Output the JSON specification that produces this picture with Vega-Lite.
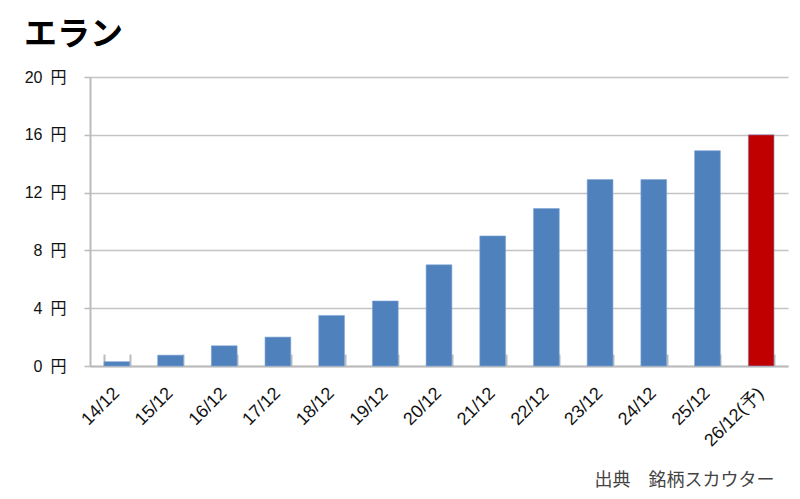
{
  "$schema": "https://vega.github.io/schema/vega-lite/v6.json",
  "width": 698,
  "height": 289,
  "autosize": "none",
  "padding": {"left": 90, "top": 77, "right": 12, "bottom": 133},
  "background": "white",
  "title": {
    "text": "エラン",
    "anchor": "start",
    "frame": "group",
    "dx": -66,
    "offset": 17,
    "fontSize": 33,
    "fontWeight": "bold",
    "font": "Noto Sans CJK JP",
    "color": "#000000"
  },
  "data": {
    "values": [
      {"year": "14/12", "value": 0.3, "kind": "実績"},
      {"year": "15/12", "value": 0.75, "kind": "実績"},
      {"year": "16/12", "value": 1.4, "kind": "実績"},
      {"year": "17/12", "value": 2.0, "kind": "実績"},
      {"year": "18/12", "value": 3.5, "kind": "実績"},
      {"year": "19/12", "value": 4.5, "kind": "実績"},
      {"year": "20/12", "value": 7.0, "kind": "実績"},
      {"year": "21/12", "value": 9.0, "kind": "実績"},
      {"year": "22/12", "value": 10.9, "kind": "実績"},
      {"year": "23/12", "value": 12.9, "kind": "実績"},
      {"year": "24/12", "value": 12.9, "kind": "実績"},
      {"year": "25/12", "value": 14.9, "kind": "実績"},
      {"year": "26/12(予)", "value": 16.0, "kind": "予想"}
    ]
  },
  "mark": {"type": "bar", "stroke": "#7fa6d6", "strokeWidth": 0.6},
  "encoding": {
    "x": {
      "field": "year",
      "type": "nominal",
      "sort": null,
      "scale": {"paddingInner": 0.52, "paddingOuter": 0.26},
      "axis": {
        "title": "出典　銘柄スカウター",
        "titleFont": "Noto Sans CJK JP",
        "titleFontSize": 18,
        "titleFontWeight": "normal",
        "titleColor": "#444444",
        "titleAnchor": "end",
        "titleAlign": "right",
        "titleBaseline": "middle",
        "titleX": 684,
        "titleY": 114,
        "labelAngle": -45,
        "labelAlign": "right",
        "labelBaseline": "top",
        "labelFont": "Liberation Sans",
        "labelFontSize": 18,
        "labelColor": "#111111",
        "labelPadding": 30,
        "labelOffset": -7,
        "tickBand": "extent",
        "tickSize": -12,
        "tickColor": "#bbbbbb",
        "tickWidth": 2,
        "domainColor": "#bbbbbb",
        "domainWidth": 2
      }
    },
    "y": {
      "field": "value",
      "type": "quantitative",
      "scale": {"domain": [0, 20], "nice": false},
      "axis": {
        "title": null,
        "values": [0, 4, 8, 12, 16, 20],
        "labelExpr": "datum.value + '\u2002円'",
        "labelFont": "Liberation Sans, Noto Sans CJK JP",
        "labelFontSize": 16,
        "labelColor": "#111111",
        "labelPadding": 18,
        "tickSize": 6,
        "tickColor": "#bbbbbb",
        "tickWidth": 1.5,
        "gridColor": "#c4c4c4",
        "gridWidth": 1.5,
        "domainColor": "#bbbbbb",
        "domainWidth": 2
      }
    },
    "color": {
      "field": "kind",
      "type": "nominal",
      "scale": {"domain": ["実績", "予想"], "range": ["#4f81bd", "#c00000"]},
      "legend": null
    }
  },
  "config": {"view": {"stroke": null}}
}
